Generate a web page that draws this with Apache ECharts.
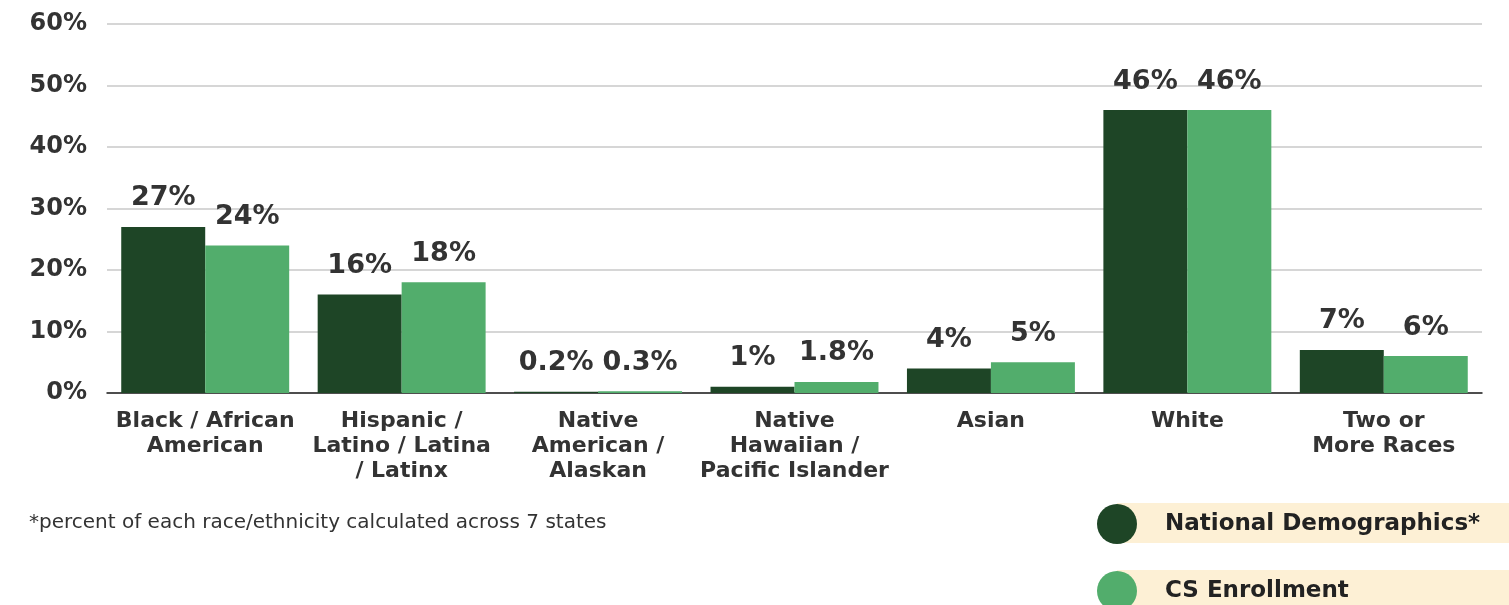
<!DOCTYPE html>
<html>
<head>
<meta charset="utf-8">
<script src="https://cdn.jsdelivr.net/npm/echarts@6/dist/echarts.min.js"></script>
<style>
  html, body { margin: 0; padding: 0; background: #fff; }
  #chart { width: 1509px; height: 605px; }
</style>
</head>
<body>
<div id="chart"></div>
<script>
// categories and values
const categories = [
  "Black / African\nAmerican",
  "Hispanic /\nLatino / Latina\n/ Latinx",
  "Native\nAmerican /\nAlaskan",
  "Native\nHawaiian /\nPacific Islander",
  "Asian",
  "White",
  "Two or\nMore Races"
];
const seriesNames = ["National Demographics*", "CS Enrollment"];
const nationalDemographics = [27, 16, 0.2, 1, 4, 46, 7];
const csEnrollment = [24, 18, 0.3, 1.8, 5, 46, 6];
const yTicks = [0, 10, 20, 30, 40, 50, 60];

const FONT = "'DejaVu Sans', sans-serif";
const chart = echarts.init(document.getElementById("chart"));

const valueLabel = {
  show: true,
  position: "top",
  distance: 15,
  formatter: "{c}%",
  color: "#333",
  fontFamily: FONT,
  fontWeight: "bold",
  fontSize: 27
};

// one legend per item so they stack without wrapping
function legendFor(name, top) {
  return {
    data: [name],
    left: 1092,
    top: top,
    icon: "circle",
    itemWidth: 40,
    itemHeight: 40,
    textStyle: {
      color: "#222",
      fontFamily: FONT,
      fontWeight: "bold",
      fontSize: 23,
      padding: [0, 0, 0, 23]
    }
  };
}

chart.setOption({
  animation: false,
  title: {
    text: "*percent of each race/ethnicity calculated across 7 states",
    left: 24,
    top: 508,
    textStyle: { color: "#333", fontFamily: FONT, fontWeight: "normal", fontSize: 20 }
  },
  // beige bands behind legend text
  graphic: [
    { type: "rect", left: 1117, top: 503, shape: { width: 392, height: 40 }, style: { fill: "#fdf0d5" }, z: -1 },
    { type: "rect", left: 1117, top: 570, shape: { width: 392, height: 40 }, style: { fill: "#fdf0d5" }, z: -1 }
  ],
  legend: [legendFor(seriesNames[0], 499), legendFor(seriesNames[1], 566)],
  grid: { left: 107, right: 27, top: 24, bottom: 212 },
  xAxis: {
    type: "category",
    data: categories,
    axisLine: { lineStyle: { color: "#222", width: 1.5 } },
    axisTick: { show: false },
    axisLabel: {
      interval: 0,
      margin: 16,
      color: "#333",
      fontFamily: FONT,
      fontWeight: "bold",
      fontSize: 22,
      lineHeight: 25
    }
  },
  yAxis: {
    type: "value",
    min: yTicks[0],
    max: yTicks[yTicks.length - 1],
    interval: 10,
    axisLine: { show: false },
    axisTick: { show: false },
    axisLabel: {
      formatter: "{value}%",
      margin: 20,
      color: "#333",
      fontFamily: FONT,
      fontWeight: "bold",
      fontSize: 24
    },
    splitLine: { lineStyle: { color: "#c8c8c8", width: 1.5 } }
  },
  series: [
    {
      name: seriesNames[0],
      type: "bar",
      data: nationalDemographics,
      barGap: "0%",
      barCategoryGap: "14.5%",
      itemStyle: { color: "#1e4526" },
      label: valueLabel
    },
    {
      name: seriesNames[1],
      type: "bar",
      data: csEnrollment,
      itemStyle: { color: "#52ad6c" },
      label: valueLabel
    }
  ]
});
</script>
</body>
</html>
